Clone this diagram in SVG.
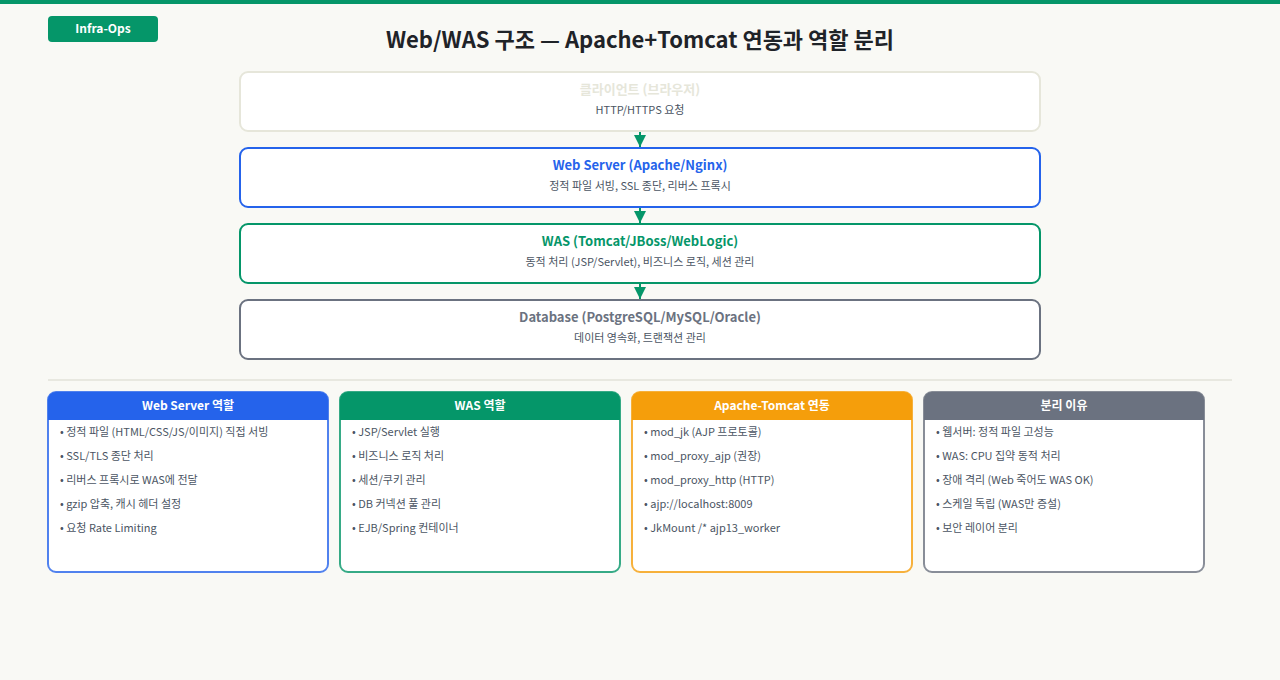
<svg xmlns="http://www.w3.org/2000/svg" width="1280" height="680" viewBox="0 0 1280 680">
<defs>
<style>
text{font-family:"Noto Sans CJK KR","Noto Sans",sans-serif}
.node{fill:#ffffff;stroke-width:2}
.nt{font-size:13px;font-weight:700;text-anchor:middle}
.ns{font-size:11px;fill:#4b5563;text-anchor:middle}
.card{fill:#ffffff;stroke-width:2}
.ch{font-size:12px;font-weight:700;fill:#ffffff;text-anchor:middle}
.it{font-size:11px;fill:#4b5563}
.conn{stroke:#059669;stroke-width:2;fill:none}
</style>
<marker id="ah" viewBox="0 0 10 10" refX="10" refY="5" markerWidth="12" markerHeight="12" markerUnits="userSpaceOnUse" orient="auto">
<path d="M0,0 L10,5 L0,10 z" fill="#059669"/>
</marker>
</defs>
<rect x="0" y="0" width="1280" height="680" fill="#f9f9f5"/>
<rect x="0" y="0" width="1280" height="4" fill="#059669"/>
<g id="badge">
<rect x="48" y="16" width="110" height="26" rx="4" fill="#059669"/>
<text x="103" y="33" font-size="12" font-weight="700" fill="#ffffff" text-anchor="middle">Infra-Ops</text>
</g>
<text x="640" y="48" font-size="22" font-weight="700" fill="#1f2328" text-anchor="middle">Web/WAS 구조 — Apache+Tomcat 연동과 역할 분리</text>

<g id="connectors">
<line class="conn" x1="640" y1="132" x2="640" y2="147" marker-end="url(#ah)"/>
<line class="conn" x1="640" y1="208" x2="640" y2="223" marker-end="url(#ah)"/>
<line class="conn" x1="640" y1="284" x2="640" y2="299" marker-end="url(#ah)"/>
</g>

<g id="client">
<rect class="node" x="240" y="72" width="800" height="59" rx="8" stroke="#e6e6da"/>
<text class="nt" x="640" y="94" fill="#e6e6da">클라이언트 (브라우저)</text>
<text class="ns" x="640" y="114">HTTP/HTTPS 요청</text>
</g>
<g id="webserver">
<rect class="node" x="240" y="148" width="800" height="59" rx="8" stroke="#2563eb"/>
<text class="nt" x="640" y="170" fill="#2563eb">Web Server (Apache/Nginx)</text>
<text class="ns" x="640" y="190">정적 파일 서빙, SSL 종단, 리버스 프록시</text>
</g>
<g id="was">
<rect class="node" x="240" y="224" width="800" height="59" rx="8" stroke="#059669"/>
<text class="nt" x="640" y="246" fill="#059669">WAS (Tomcat/JBoss/WebLogic)</text>
<text class="ns" x="640" y="266">동적 처리 (JSP/Servlet), 비즈니스 로직, 세션 관리</text>
</g>
<g id="database">
<rect class="node" x="240" y="300" width="800" height="59" rx="8" stroke="#6b7280"/>
<text class="nt" x="640" y="322" fill="#6b7280">Database (PostgreSQL/MySQL/Oracle)</text>
<text class="ns" x="640" y="342">데이터 영속화, 트랜잭션 관리</text>
</g>

<line x1="48" y1="380" x2="1232" y2="380" stroke="#e8e8e0" stroke-width="2"/>

<g id="card-web">
<rect class="card" x="48" y="392" width="280" height="180" rx="8" stroke="#2563eb" stroke-opacity="0.8"/>
<path d="M48,400 a8,8 0 0 1 8,-8 h264 a8,8 0 0 1 8,8 v20 h-280 z" fill="#2563eb"/>
<text class="ch" x="188" y="410">Web Server 역할</text>
<text class="it" x="60" y="436">• 정적 파일 (HTML/CSS/JS/이미지) 직접 서빙</text>
<text class="it" x="60" y="460">• SSL/TLS 종단 처리</text>
<text class="it" x="60" y="484">• 리버스 프록시로 WAS에 전달</text>
<text class="it" x="60" y="508">• gzip 압축, 캐시 헤더 설정</text>
<text class="it" x="60" y="532">• 요청 Rate Limiting</text>
</g>
<g id="card-was">
<rect class="card" x="340" y="392" width="280" height="180" rx="8" stroke="#059669" stroke-opacity="0.8"/>
<path d="M340,400 a8,8 0 0 1 8,-8 h264 a8,8 0 0 1 8,8 v20 h-280 z" fill="#059669"/>
<text class="ch" x="480" y="410">WAS 역할</text>
<text class="it" x="352" y="436">• JSP/Servlet 실행</text>
<text class="it" x="352" y="460">• 비즈니스 로직 처리</text>
<text class="it" x="352" y="484">• 세션/쿠키 관리</text>
<text class="it" x="352" y="508">• DB 커넥션 풀 관리</text>
<text class="it" x="352" y="532">• EJB/Spring 컨테이너</text>
</g>
<g id="card-apache">
<rect class="card" x="632" y="392" width="280" height="180" rx="8" stroke="#f59e0b" stroke-opacity="0.8"/>
<path d="M632,400 a8,8 0 0 1 8,-8 h264 a8,8 0 0 1 8,8 v20 h-280 z" fill="#f59e0b"/>
<text class="ch" x="772" y="410">Apache-Tomcat 연동</text>
<text class="it" x="644" y="436">• mod_jk (AJP 프로토콜)</text>
<text class="it" x="644" y="460">• mod_proxy_ajp (권장)</text>
<text class="it" x="644" y="484">• mod_proxy_http (HTTP)</text>
<text class="it" x="644" y="508">• ajp://localhost:8009</text>
<text class="it" x="644" y="532">• JkMount /* ajp13_worker</text>
</g>
<g id="card-reason">
<rect class="card" x="924" y="392" width="280" height="180" rx="8" stroke="#6b7280" stroke-opacity="0.8"/>
<path d="M924,400 a8,8 0 0 1 8,-8 h264 a8,8 0 0 1 8,8 v20 h-280 z" fill="#6b7280"/>
<text class="ch" x="1064" y="410">분리 이유</text>
<text class="it" x="936" y="436">• 웹서버: 정적 파일 고성능</text>
<text class="it" x="936" y="460">• WAS: CPU 집약 동적 처리</text>
<text class="it" x="936" y="484">• 장애 격리 (Web 죽어도 WAS OK)</text>
<text class="it" x="936" y="508">• 스케일 독립 (WAS만 증설)</text>
<text class="it" x="936" y="532">• 보안 레이어 분리</text>
</g>
</svg>
